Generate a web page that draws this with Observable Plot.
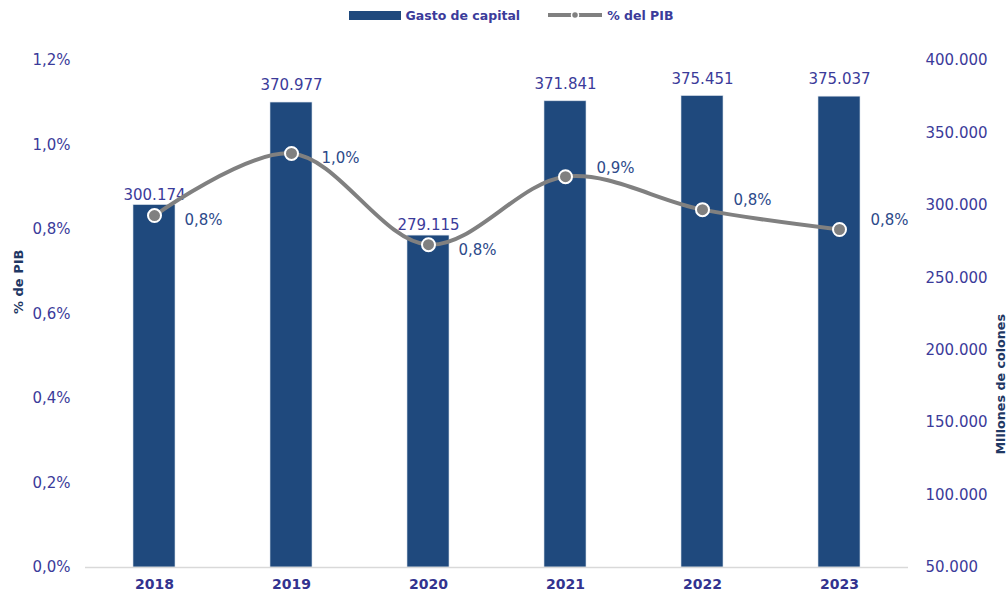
<!DOCTYPE html>
<html>
<head>
<meta charset="utf-8">
<script src="https://cdn.jsdelivr.net/npm/d3@7"></script>
<script src="https://cdn.jsdelivr.net/npm/@observablehq/plot@0.6"></script>
<style>
  body { margin: 0; background: #fff; font-family: "DejaVu Sans", sans-serif; }
  #legend { height: 30px; display: flex; justify-content: center; align-items: center; font-weight: bold; font-size: 12.5px; color: #3b3b9a; padding-left: 14px; }
  #legend .item { display: flex; align-items: center; }
  #legend .bar { width: 52px; height: 9px; background: #1f497d; margin-right: 5px; }
  #legend svg { margin-right: 4px; }
</style>
</head>
<body>
<div id="legend">
  <div class="item" style="margin-right:27px"><div class="bar"></div><span>Gasto de capital</span></div>
  <div class="item"><svg width="56" height="12"><line x1="1" y1="6" x2="55" y2="6" stroke="#808080" stroke-width="4"/><circle cx="28" cy="6" r="3.5" fill="#808080" stroke="#fff" stroke-width="1.5"/></svg><span>% del PIB</span></div>
</div>
<div id="chart"></div>
<script>
const years = ["2018", "2019", "2020", "2021", "2022", "2023"];
const gasto = [300174, 370977, 279115, 371841, 375451, 375037];
const pctPIB = [0.833, 0.980, 0.764, 0.925, 0.847, 0.800];
const leftTicks = [0, 0.2, 0.4, 0.6, 0.8, 1.0, 1.2];
const rightTicks = [50000, 100000, 150000, 200000, 250000, 300000, 350000, 400000];

const rMin = 50000, rMax = 400000, lMax = 1.2;
const toPct = v => (v - rMin) / (rMax - rMin) * lMax;
const fromPct = p => Math.round(p / lMax * (rMax - rMin) + rMin);

const loc = d3.formatLocale({decimal: ",", thousands: ".", grouping: [3], currency: ["", ""]});
const fmtN = loc.format(",d");
const fmtP = d => d.toFixed(1).replace(".", ",") + "%";

const data = years.map((y, i) => ({year: y, i, gasto: gasto[i], gp: toPct(gasto[i]), pct: pctPIB[i]}));
const early = data.filter(d => d.i < 3);
const late = data.filter(d => d.i >= 3);

const chart = Plot.plot({
  width: 1008,
  height: 563,
  marginTop: 30,
  marginBottom: 26,
  marginLeft: 85,
  marginRight: 100,
  style: {fontFamily: "DejaVu Sans, sans-serif", fontSize: "15px", color: "#3b3b9a", background: "#fff"},
  x: {domain: years, type: "band", paddingInner: 0.69, paddingOuter: 0.345, label: null},
  y: {domain: [0, lMax], label: null},
  marks: [
    Plot.barY(data, {x: "year", y1: 0, y2: "gp", fill: "#1f497d", stroke: "#d7dfea", strokeWidth: 0.6}),
    Plot.ruleY([0], {stroke: "#d9d9d9", strokeWidth: 1.5}),
    Plot.text(early.filter(d => d.i !== 1), {x: "year", y: "gp", text: d => fmtN(d.gasto), dy: -10, fill: "#3b3b9a", fontSize: 15}),
    Plot.text(data.filter(d => d.i === 1 || d.i >= 3), {x: "year", y: "gp", text: d => fmtN(d.gasto), dy: -17, fill: "#3b3b9a", fontSize: 15}),
    Plot.line(data, {x: "year", y: "pct", curve: "catmull-rom", stroke: "#808080", strokeWidth: 4}),
    Plot.dot(data, {x: "year", y: "pct", r: 6.5, fill: "#808080", stroke: "#fff", strokeWidth: 2}),
    Plot.text(early, {x: "year", y: "pct", text: d => fmtP(d.pct), dx: 30, dy: 5, textAnchor: "start", fill: "#2d4a8a", fontSize: 15}),
    Plot.text(late, {x: "year", y: "pct", text: d => fmtP(d.pct), dx: 31, dy: -9, textAnchor: "start", fill: "#2d4a8a", fontSize: 15}),
    Plot.axisY({anchor: "left", ticks: leftTicks, tickFormat: fmtP, tickSize: 0, tickPadding: 15, label: null, fontSize: 15}),
    Plot.axisY({anchor: "right", ticks: rightTicks.map(toPct), tickFormat: p => fmtN(fromPct(p)), tickSize: 0, tickPadding: 17, label: null, fontSize: 15}),
    Plot.axisX({tickSize: 0, tickPadding: 12, label: null, fontWeight: "bold", fontSize: 14, fill: "#33338f"}),
    Plot.text(["% de PIB"], {frameAnchor: "left", dx: -67, rotate: -90, fontWeight: "bold", fontSize: 13, fill: "#1f3864"}),
    Plot.text(["Millones de colones"], {frameAnchor: "right", dx: 92, rotate: -90, fontWeight: "bold", fontSize: 12.7, fill: "#1f3864"})
  ]
});
document.getElementById("chart").appendChild(chart);
</script>
</body>
</html>
